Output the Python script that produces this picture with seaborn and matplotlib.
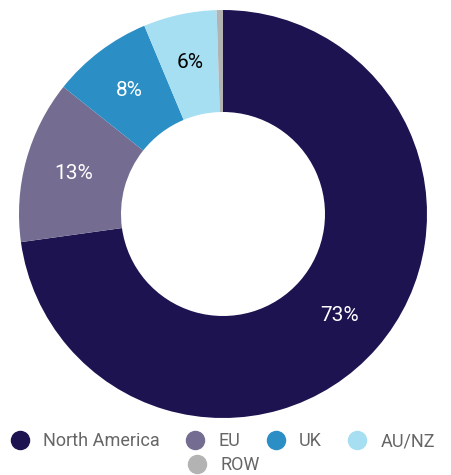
import matplotlib.pyplot as plt
import seaborn as sns
import numpy as np
from matplotlib.lines import Line2D

# Data
regions = ["North America", "EU", "UK", "AU/NZ", "ROW"]
shares = [72.8, 12.9, 8.0, 5.8, 0.5]
pct_labels = ["73%", "13%", "8%", "6%", ""]
colors = ["#1c1350", "#746d91", "#2b8fc6", "#a6dff2", "#b3b3b3"]
label_colors = ["white", "white", "white", "black", "black"]

sns.set_theme(style="white")
plt.rcParams["font.family"] = ["Roboto", "DejaVu Sans"]

W, H = 451, 475
fig = plt.figure(figsize=(W / 100, H / 100), dpi=100)
# pie axes: centre ~ (223, 214) px, radius ~204 px
cx, cy, R = 223, 214, 204
ax = fig.add_axes([(cx - R) / W, (H - cy - R) / H, 2 * R / W, 2 * R / H])

ax.pie(
    shares,
    colors=colors,
    startangle=90,
    counterclock=False,
    radius=1.0,
    wedgeprops=dict(width=0.5, edgecolor="none"),
)
ax.set_aspect("equal")
ax.set_xlim(-1, 1)
ax.set_ylim(-1, 1)
ax.axis("off")

# percentage labels at middle of ring
total = sum(shares)
start = 90.0
for val, lab, lc in zip(shares, pct_labels, label_colors):
    sweep = 360 * val / total
    mid = np.deg2rad(start - sweep / 2)
    start -= sweep
    if lab:
        ax.text(0.76 * np.cos(mid), 0.76 * np.sin(mid), lab, ha="center", va="center",
                color=lc, fontsize=15)

# legend: four items on first row, ROW centred below
def handle(c):
    return Line2D([], [], marker="o", linestyle="none", markersize=13,
                  markerfacecolor=c, markeredgecolor=c)

leg_kw = dict(frameon=False, fontsize=13, handlelength=1.0, handletextpad=0.8,
              columnspacing=1.45, labelcolor="#666666", borderpad=0, borderaxespad=0)
fig.legend([handle(c) for c in colors[:4]], regions[:4], ncol=4,
           loc="center", bbox_to_anchor=(223 / W, 1 - 441 / H), **leg_kw)
fig.legend([handle(colors[4])], regions[4:], loc="center",
           bbox_to_anchor=(224 / W, 1 - 465 / H), **leg_kw)

fig.savefig("out.png", dpi=100)
